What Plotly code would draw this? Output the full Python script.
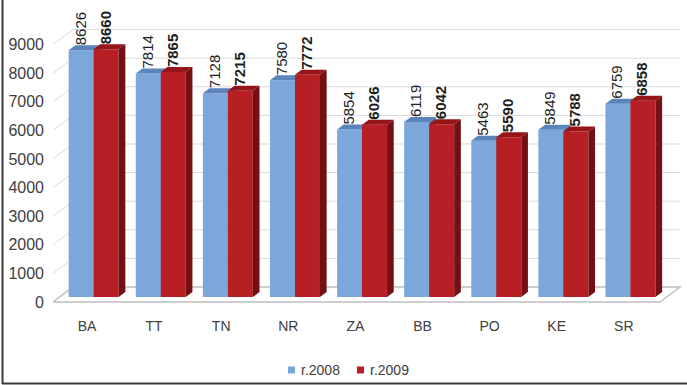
import plotly.graph_objects as go

# ---- data -------------------------------------------------------------
regions = ["BA", "TT", "TN", "NR", "ZA", "BB", "PO", "KE", "SR"]
vals_2008 = [8626, 7814, 7128, 7580, 5854, 6119, 5463, 5849, 6759]
vals_2009 = [8660, 7865, 7215, 7772, 6026, 6042, 5590, 5788, 6858]
series_names = ["r.2008", "r.2009"]
y_ticks = [0, 1000, 2000, 3000, 4000, 5000, 6000, 7000, 8000, 9000]

# ---- page / scale geometry (pixels) ----------------------------------
W, H = 687, 385
M_L, M_R, M_T, M_B = 53, 2, 0, 75
PLOT_W = W - M_L - M_R
PLOT_H = H - M_T - M_B
CAT_PX = 67.1        # pixels per category step
X0_PX = 87.0         # page x of the first category
VAL_PX = 0.0286      # pixels per value unit
BASE_PX = 302.0      # page y of value 0 on the front plane

x_range = [(M_L - X0_PX) / CAT_PX, (W - M_R - X0_PX) / CAT_PX]
y_range = [(BASE_PX - (H - M_B)) / VAL_PX, (BASE_PX - M_T) / VAL_PX]

# depth of the pseudo-3D box, expressed in axis units
DEPTH_X = 20.0 / CAT_PX
DEPTH_Y = 15.0 / VAL_PX
FLOOR_L = x_range[0]
FLOOR_R = (660.0 - X0_PX) / CAT_PX

# bars sit between these two depth fractions
F1, F2 = 1 / 3, 2 / 3
BAR_W = 25.0 / CAT_PX
LABEL_SHIFT = -1.0 / CAT_PX
LABEL_DROP = 3.0 / VAL_PX   # cancels the outside-text padding

FONT = "Liberation Sans, Arial, sans-serif"
TEXT_C = "#404040"

styles = [
    dict(front="#7BA7DA", top="#5B84BA", side="#4C73A8"),
    dict(front="#B71F25", top="#951519", side="#741014"),
]


def px_x(p):
    return (p - M_L) / PLOT_W


def px_y(p):
    return (H - M_B - p) / PLOT_H


fig = go.Figure()
cats = list(range(len(regions)))

# front faces as bars, side and top faces as filled polygons
for k, vals in enumerate([vals_2008, vals_2009]):
    st = styles[k]
    off = -BAR_W + F1 * DEPTH_X if k == 0 else F1 * DEPTH_X
    fig.add_trace(go.Bar(
        x=cats, y=vals, base=F1 * DEPTH_Y,
        width=BAR_W, offset=off,
        marker=dict(color=st["front"], line=dict(width=0)),
        name=series_names[k], showlegend=False, hoverinfo="skip",
        zorder=2 * k,
    ))
    tx, ty, sx, sy = [], [], [], []
    ddx = (F2 - F1) * DEPTH_X
    ddy = (F2 - F1) * DEPTH_Y
    for i, v in enumerate(vals):
        x0 = i + off
        x1 = x0 + BAR_W
        yb = F1 * DEPTH_Y
        yt = yb + v
        tx += [x0, x1, x1 + ddx, x0 + ddx, x0, None]
        ty += [yt, yt, yt + ddy, yt + ddy, yt, None]
        sx += [x1, x1, x1 + ddx, x1 + ddx, x1, None]
        sy += [yb, yt, yt + ddy, yb + ddy, yb, None]
    fig.add_trace(go.Scatter(
        x=tx, y=ty, mode="lines", fill="toself", fillcolor=st["top"],
        line=dict(width=0), showlegend=False, hoverinfo="skip",
        zorder=2 * k + 1,
    ))
    fig.add_trace(go.Scatter(
        x=sx, y=sy, mode="lines", fill="toself", fillcolor=st["side"],
        line=dict(width=0), showlegend=False, hoverinfo="skip",
        zorder=2 * k + 1,
    ))

    # value labels: transparent bars reaching the back edge of each top
    fig.add_trace(go.Bar(
        x=cats, y=vals, base=F2 * DEPTH_Y - LABEL_DROP,
        width=BAR_W, offset=off + LABEL_SHIFT,
        marker=dict(color="rgba(0,0,0,0)", line=dict(width=0)),
        text=vals,
        texttemplate="%{y}" if k == 0 else "<b>%{y}</b>",
        textposition="outside", textangle=-90, constraintext="none",
        cliponaxis=False,
        textfont=dict(family=FONT, size=15, color="#1E1E1E"),
        showlegend=False, hoverinfo="skip", zorder=5,
    ))

# floor, back-wall gridlines and side-wall diagonals
shapes = []
grid_c = "#D9D9D9"
shapes.append(dict(
    type="path", layer="below",
    path="M %f,%f L %f,%f L %f,%f L %f,%f Z" % (
        FLOOR_L, 0, FLOOR_R, 0, FLOOR_R + DEPTH_X, DEPTH_Y,
        FLOOR_L + DEPTH_X, DEPTH_Y),
    line=dict(color="#BFBFBF", width=1.5), fillcolor="white",
))
for t in y_ticks[1:]:
    shapes.append(dict(type="line", layer="below",
                       x0=FLOOR_L, y0=t, x1=FLOOR_L + DEPTH_X, y1=t + DEPTH_Y,
                       line=dict(color=grid_c, width=1)))
    shapes.append(dict(type="line", layer="below",
                       x0=FLOOR_L + DEPTH_X, y0=t + DEPTH_Y,
                       x1=FLOOR_R + DEPTH_X, y1=t + DEPTH_Y,
                       line=dict(color=grid_c, width=1)))

# outer frame (left and bottom edges)
frame_c = "#3A3A3A"
shapes.append(dict(type="line", xref="paper", yref="paper",
                   x0=px_x(2.5), x1=px_x(2.5), y0=px_y(0), y1=px_y(384),
                   line=dict(color=frame_c, width=2)))
shapes.append(dict(type="line", xref="paper", yref="paper",
                   x0=px_x(2), x1=px_x(W), y0=px_y(383.5), y1=px_y(383.5),
                   line=dict(color=frame_c, width=2)))

# legend swatches and labels
legend_items = [(288, styles[0]["front"], series_names[0]),
                (357, styles[1]["front"], series_names[1])]
for xs, col, name in legend_items:
    shapes.append(dict(type="rect", xref="paper", yref="paper",
                       x0=px_x(xs), x1=px_x(xs + 7),
                       y0=px_y(366.5), y1=px_y(373.5),
                       fillcolor=col, line=dict(width=0)))
    fig.add_annotation(
        xref="paper", yref="paper", x=px_x(xs + 11), y=px_y(370),
        text=name, showarrow=False, xanchor="left", yanchor="middle",
        font=dict(family=FONT, size=14, color=TEXT_C),
    )

fig.update_layout(
    width=W, height=H,
    margin=dict(l=M_L, r=M_R, t=M_T, b=M_B, pad=0),
    paper_bgcolor="white", plot_bgcolor="white",
    barmode="overlay", showlegend=False,
    shapes=shapes,
    xaxis=dict(range=x_range, tickvals=cats,
               ticktext=regions, showgrid=False, zeroline=False,
               showline=False, ticks="", ticklabelstandoff=6,
               tickfont=dict(family=FONT, size=14, color=TEXT_C),
               fixedrange=True),
    yaxis=dict(range=y_range, tickvals=y_ticks, showgrid=False,
               zeroline=False, showline=False, ticks="",
               ticklabelstandoff=8,
               tickfont=dict(family=FONT, size=16, color=TEXT_C),
               fixedrange=True),
)

fig.write_html("out.html")
